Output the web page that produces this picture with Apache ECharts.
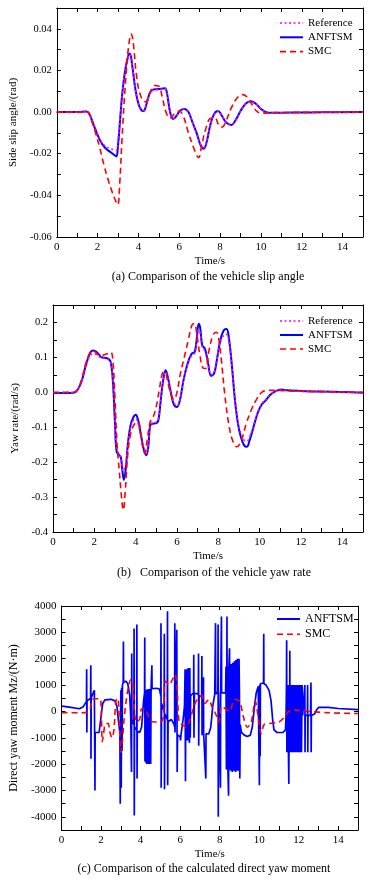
<!DOCTYPE html>
<html><head><meta charset="utf-8">
<script src="https://cdn.jsdelivr.net/npm/echarts@6/dist/echarts.min.js"></script>
<style>html,body{margin:0;padding:0;background:#fff}#c{width:374px;height:880px}</style>
</head><body><div id="c"></div>
<script>
// ---------- (a) side slip angle [time s, rad] ----------
const slipRef = [[0,0],[1.0,0],[1.45,0.0003],[1.6,-0.001],[1.8,-0.006],[2.0,-0.0105],[2.2,-0.0145],[2.4,-0.0165],[2.6,-0.0175],[2.8,-0.0182],[2.92,-0.0185],[3.0,-0.014],[3.1,-0.003],[3.2,0.008],[3.35,0.02],[3.5,0.0265],[3.58,0.0278],[3.7,0.022],[3.85,0.011],[4.0,0.004],[4.15,0.001],[4.25,0.0008],[4.4,0.004],[4.55,0.009],[4.7,0.0105],[4.9,0.0108],[5.1,0.011],[5.3,0.0112],[5.4,0.009],[5.55,0.0],[5.7,-0.003],[5.85,-0.002],[6.05,0.0008],[6.25,0.0015],[6.45,0.0],[6.65,-0.005],[6.85,-0.0105],[7.05,-0.0155],[7.2,-0.017],[7.35,-0.0135],[7.5,-0.007],[7.7,-0.001],[7.9,0.0005],[8.1,-0.002],[8.3,-0.005],[8.55,-0.006],[8.75,-0.004],[9.0,0.0005],[9.25,0.004],[9.5,0.005],[9.75,0.004],[10.0,0.0015],[10.25,0.0],[10.5,-0.0003],[11,-0.0003],[12,-0.0002],[13,-0.0001],[15,0]];
const slipAnftsm = [[0,0],[1.0,0],[1.45,0.0003],[1.6,-0.001],[1.8,-0.006],[2.0,-0.011],[2.2,-0.015],[2.4,-0.0175],[2.6,-0.019],[2.8,-0.0205],[2.92,-0.0213],[3.0,-0.016],[3.1,-0.004],[3.2,0.008],[3.35,0.02],[3.5,0.027],[3.58,0.0282],[3.7,0.022],[3.85,0.011],[4.0,0.004],[4.15,0.0008],[4.25,0.0005],[4.4,0.004],[4.55,0.009],[4.7,0.0108],[4.9,0.011],[5.1,0.0112],[5.3,0.0115],[5.4,0.009],[5.55,0.0],[5.7,-0.0033],[5.85,-0.002],[6.05,0.0008],[6.25,0.0015],[6.45,0.0],[6.65,-0.005],[6.85,-0.01],[7.05,-0.016],[7.2,-0.0176],[7.35,-0.014],[7.5,-0.007],[7.7,-0.001],[7.9,0.0005],[8.1,-0.002],[8.3,-0.005],[8.55,-0.0062],[8.75,-0.004],[9.0,0.0005],[9.25,0.004],[9.5,0.0052],[9.75,0.004],[10.0,0.0015],[10.25,0.0],[10.5,-0.0003],[11,-0.0003],[12,-0.0002],[13,-0.0001],[15,0]];
const slipSmc = [[0,0],[1.0,0],[1.5,0],[1.7,-0.004],[1.9,-0.01],[2.1,-0.017],[2.3,-0.025],[2.5,-0.032],[2.7,-0.038],[2.9,-0.043],[2.99,-0.0445],[3.08,-0.035],[3.2,-0.012],[3.35,0.012],[3.5,0.03],[3.65,0.0375],[3.75,0.033],[3.9,0.018],[4.1,0.008],[4.35,0.0049],[4.55,0.009],[4.8,0.0128],[5.0,0.0125],[5.15,0.008],[5.35,0.0],[5.55,-0.003],[5.75,-0.001],[6.0,0.0005],[6.2,-0.002],[6.45,-0.01],[6.7,-0.017],[6.95,-0.0218],[7.1,-0.016],[7.3,-0.008],[7.55,-0.003],[7.75,-0.003],[7.95,-0.0065],[8.1,-0.0072],[8.3,-0.004],[8.55,0.002],[8.85,0.007],[9.1,0.0084],[9.35,0.007],[9.6,0.003],[9.85,0.0],[10.1,-0.0005],[10.5,-0.0003],[11,-0.0002],[15,0]];

// ---------- (b) yaw rate [time s, rad/s] ----------
const yawRef = [[0,-0.001],[0.5,-0.001],[1.0,-0.001],[1.2,0.008],[1.4,0.034],[1.6,0.078],[1.8,0.105],[1.95,0.11],[2.1,0.108],[2.3,0.1],[2.5,0.097],[2.7,0.093],[2.8,0.083],[2.9,0.03],[3.0,-0.09],[3.08,-0.165],[3.2,-0.175],[3.3,-0.19],[3.4,-0.225],[3.52,-0.205],[3.62,-0.15],[3.75,-0.1],[3.9,-0.078],[4.0,-0.075],[4.12,-0.09],[4.25,-0.125],[4.4,-0.16],[4.52,-0.17],[4.62,-0.145],[4.7,-0.095],[4.8,-0.088],[5.0,-0.085],[5.1,-0.075],[5.2,-0.03],[5.32,0.03],[5.45,0.058],[5.55,0.042],[5.7,0.0],[5.85,-0.03],[6.0,-0.038],[6.15,-0.018],[6.3,0.03],[6.5,0.078],[6.7,0.105],[6.85,0.112],[6.95,0.14],[7.05,0.178],[7.12,0.17],[7.22,0.13],[7.35,0.118],[7.5,0.082],[7.65,0.05],[7.8,0.058],[7.95,0.1],[8.1,0.145],[8.3,0.165],[8.4,0.166],[8.5,0.15],[8.65,0.075],[8.8,-0.02],[8.95,-0.085],[9.1,-0.12],[9.25,-0.137],[9.38,-0.14],[9.5,-0.13],[9.7,-0.095],[9.9,-0.058],[10.1,-0.033],[10.3,-0.02],[10.5,-0.007],[10.8,0.004],[11.05,0.007],[11.3,0.005],[12,0.003],[13,0.002],[14,0.0],[15,-0.001]];
const yawAnftsm = [[0,-0.002],[0.5,-0.002],[1.0,-0.001],[1.2,0.008],[1.4,0.035],[1.6,0.08],[1.8,0.113],[1.92,0.12],[2.05,0.118],[2.2,0.11],[2.35,0.1],[2.5,0.099],[2.7,0.095],[2.8,0.085],[2.9,0.03],[3.0,-0.09],[3.08,-0.17],[3.2,-0.18],[3.28,-0.185],[3.35,-0.22],[3.43,-0.251],[3.52,-0.22],[3.62,-0.15],[3.75,-0.095],[3.9,-0.07],[4.0,-0.064],[4.12,-0.08],[4.25,-0.12],[4.4,-0.165],[4.52,-0.18],[4.62,-0.15],[4.7,-0.095],[4.8,-0.09],[5.0,-0.088],[5.1,-0.08],[5.2,-0.03],[5.32,0.03],[5.45,0.063],[5.55,0.045],[5.7,0.0],[5.85,-0.035],[6.0,-0.042],[6.15,-0.02],[6.3,0.03],[6.5,0.08],[6.7,0.11],[6.85,0.115],[6.95,0.15],[7.05,0.196],[7.12,0.185],[7.22,0.135],[7.35,0.125],[7.5,0.085],[7.65,0.047],[7.8,0.055],[7.95,0.1],[8.1,0.15],[8.3,0.18],[8.4,0.181],[8.5,0.16],[8.65,0.08],[8.8,-0.02],[8.95,-0.09],[9.1,-0.13],[9.25,-0.152],[9.38,-0.156],[9.5,-0.14],[9.7,-0.1],[9.9,-0.06],[10.1,-0.035],[10.3,-0.023],[10.5,-0.008],[10.8,0.004],[11.05,0.008],[11.3,0.006],[12,0.004],[13,0.002],[14,0.001],[15,-0.001]];
const yawSmc = [[0,0],[1.0,0],[1.2,0.008],[1.4,0.04],[1.6,0.085],[1.8,0.115],[1.95,0.12],[2.1,0.112],[2.3,0.105],[2.5,0.108],[2.7,0.112],[2.8,0.115],[2.9,0.09],[3.0,-0.02],[3.1,-0.15],[3.2,-0.22],[3.3,-0.29],[3.4,-0.337],[3.5,-0.28],[3.6,-0.19],[3.75,-0.12],[3.95,-0.09],[4.12,-0.085],[4.25,-0.12],[4.35,-0.16],[4.44,-0.175],[4.55,-0.14],[4.7,-0.085],[4.85,-0.07],[5.0,-0.04],[5.15,0.01],[5.3,0.055],[5.42,0.058],[5.55,0.03],[5.7,-0.005],[5.85,-0.02],[6.0,0.0],[6.15,0.05],[6.35,0.1],[6.55,0.15],[6.72,0.192],[6.85,0.197],[6.95,0.17],[7.1,0.11],[7.25,0.07],[7.38,0.068],[7.55,0.12],[7.75,0.165],[7.9,0.172],[8.0,0.16],[8.15,0.09],[8.3,0.0],[8.5,-0.09],[8.7,-0.14],[8.9,-0.156],[9.1,-0.14],[9.35,-0.09],[9.6,-0.05],[9.85,-0.02],[10.1,0.0],[10.4,0.006],[11,0.005],[12,0.003],[15,0.0]];

// ---------- (c) direct yaw moment [time s, N·m] ----------
const mzAnftsm = [[0,200],[0.4,160],[0.9,100],[1.1,180],[1.26,380],[1.27,1600],[1.28,-800],[1.29,400],[1.47,500],[1.48,1750],[1.49,-1800],[1.5,520],[1.66,800],[1.68,820],[1.69,-3000],[1.7,-800],[1.9,-800],[2.0,-750],[2.08,300],[2.2,440],[2.5,460],[2.7,400],[2.8,200],[2.9,-500],[2.95,-800],[2.97,-3500],[2.98,-700],[3.0,800],[3.02,-2900],[3.04,900],[3.06,-1500],[3.08,1000],[3.12,1100],[3.13,2650],[3.14,1100],[3.25,1150],[3.35,1050],[3.45,600],[3.5,-200],[3.54,-2300],[3.55,2200],[3.56,-300],[3.66,-500],[3.67,3150],[3.68,-3950],[3.69,-600],[3.8,-700],[3.81,3300],[3.82,-2550],[3.83,-750],[3.95,-800],[4.05,-600],[4.15,400],[4.2,700],[4.21,2800],[4.22,-1900],[4.25,800],[4.27,-1950],[4.29,820],[4.31,-2000],[4.33,830],[4.35,-2000],[4.37,840],[4.39,-1950],[4.41,850],[4.43,-2000],[4.45,850],[4.47,-2000],[4.49,860],[4.51,-2000],[4.53,860],[4.56,860],[4.57,1750],[4.58,860],[4.8,880],[4.95,850],[5.02,600],[5.03,3350],[5.04,-2900],[5.06,300],[5.19,0],[5.2,2950],[5.21,-2950],[5.23,-100],[5.35,-300],[5.36,3800],[5.37,-2800],[5.39,-400],[5.55,-300],[5.7,-500],[5.72,-600],[5.73,3350],[5.74,-800],[5.82,-850],[5.83,3100],[5.85,-2300],[5.87,-900],[6.0,-950],[6.02,-1100],[6.05,-850],[6.15,-300],[6.22,200],[6.25,1600],[6.27,-2650],[6.29,1550],[6.31,-1100],[6.33,1600],[6.35,-1000],[6.37,1600],[6.39,-1100],[6.41,1650],[6.43,-1000],[6.45,1600],[6.47,-1200],[6.49,1650],[6.51,-1000],[6.53,600],[6.6,650],[6.68,700],[6.69,2150],[6.7,-1000],[6.72,700],[6.92,650],[6.93,2200],[6.94,-1300],[6.96,600],[7.09,550],[7.1,2100],[7.11,-900],[7.13,500],[7.17,450],[7.18,1300],[7.19,-850],[7.29,-850],[7.3,-2550],[7.31,-850],[7.45,-850],[7.55,-600],[7.65,200],[7.75,650],[7.78,700],[7.79,3350],[7.8,650],[7.91,750],[7.92,3300],[7.93,-4000],[7.94,750],[8.03,750],[8.04,-2900],[8.05,750],[8.08,750],[8.09,3600],[8.1,700],[8.3,700],[8.32,1700],[8.34,-2200],[8.36,700],[8.37,3600],[8.38,-2200],[8.4,1700],[8.42,-2300],[8.45,-3200],[8.47,1750],[8.5,2400],[8.52,-2200],[8.54,1750],[8.56,-2250],[8.58,1800],[8.6,-2200],[8.62,1800],[8.64,-2300],[8.66,1850],[8.68,-2200],[8.7,1850],[8.72,-2250],[8.74,1900],[8.76,-2200],[8.78,1900],[8.8,-2300],[8.82,1950],[8.84,-2200],[8.86,1950],[8.88,-2250],[8.9,2000],[8.92,-2200],[8.94,2000],[8.96,-2250],[8.98,2000],[9.0,700],[9.02,-2550],[9.04,-500],[9.1,-800],[9.25,-900],[9.4,-950],[9.55,-900],[9.65,-600],[9.75,100],[9.85,700],[9.95,950],[10.0,1000],[10.01,-2800],[10.02,1000],[10.04,1050],[10.05,-1700],[10.06,1050],[10.15,1100],[10.22,1080],[10.23,2950],[10.24,1050],[10.35,1000],[10.5,800],[10.6,400],[10.68,-300],[10.75,-700],[10.9,-800],[11.2,-800],[11.33,-700],[11.36,-100],[11.38,1000],[11.39,2700],[11.4,-1550],[11.42,1000],[11.44,-1550],[11.46,1000],[11.48,-1550],[11.5,-2750],[11.52,1000],[11.54,-1550],[11.55,2300],[11.56,-1550],[11.58,1000],[11.6,-1550],[11.63,1000],[11.66,-1550],[11.69,1000],[11.72,-1550],[11.75,1000],[11.78,-1550],[11.81,1000],[11.84,-1550],[11.87,1000],[11.9,-1550],[11.93,1000],[11.96,-1550],[11.99,1000],[12.02,-1550],[12.05,1000],[12.08,-1550],[12.11,1000],[12.14,-1550],[12.17,1000],[12.2,-150],[12.3,-150],[12.31,1000],[12.32,-1550],[12.33,-150],[12.44,-150],[12.45,1000],[12.46,-1550],[12.47,-150],[12.6,-150],[12.62,1100],[12.63,-1550],[12.64,-150],[12.8,-100],[12.9,50],[13.0,150],[13.5,150],[14.0,110],[15,70]];
const mzSmc = [[0,-50],[0.5,-50],[1.0,-50],[1.3,-30],[1.45,100],[1.55,450],[1.75,480],[1.95,480],[2.02,-300],[2.06,-1150],[2.12,-900],[2.2,-500],[2.35,-450],[2.45,-800],[2.55,-1000],[2.65,-700],[2.75,400],[2.85,500],[2.93,-600],[3.0,-1550],[3.07,-1200],[3.15,-400],[3.25,300],[3.35,800],[3.5,1200],[3.6,1100],[3.7,-100],[3.8,-400],[3.95,-300],[4.05,100],[4.2,100],[4.35,-100],[4.5,-350],[4.7,-400],[5.0,-400],[5.15,-200],[5.25,1150],[5.45,1000],[5.6,1200],[5.75,1400],[5.85,800],[5.95,-400],[6.1,-500],[6.3,-600],[6.5,-300],[6.7,200],[6.9,500],[7.1,600],[7.25,300],[7.45,450],[7.6,200],[7.8,-100],[7.95,-400],[8.1,200],[8.3,100],[8.5,0],[8.75,450],[9.0,400],[9.2,-200],[9.4,-600],[9.6,-400],[9.8,400],[9.95,-200],[10.1,-850],[10.25,-500],[10.6,-450],[11.0,-400],[11.3,-200],[11.5,0],[11.8,50],[12.5,0],[13.5,-50],[15,-80]];

// ---------- axis settings ----------
const timeRange = [0, 15];
const slipRange = [-0.06, 0.05];
const yawRange = [-0.4, 0.25];
const mzRange = [-4500, 4000];
const legendABC = ['Reference', 'ANFTSM', 'SMC'];
const legendC = ['ANFTSM', 'SMC'];

const F = '"Liberation Serif", "Times New Roman", serif';
const BLUE = '#0000ff', RED = '#ff0000', MAG = '#ff00ff';
const DOT = [2, 2.5], DASH = [6, 4];
const STYLE = {
  'Reference': {color: MAG, type: DOT, width: 1.6},
  'ANFTSM': {color: BLUE, type: 'solid', width: 2},
  'SMC': {color: RED, type: DASH, width: 1.6}
};

function xAx(g, top) {
  return {
    type: 'value', gridIndex: g, position: top ? 'top' : 'bottom',
    min: timeRange[0], max: timeRange[1], interval: 1,
    axisLine: {show: true, onZero: false, lineStyle: {color: '#000', width: 1}},
    axisTick: {show: true, inside: true, length: 4, lineStyle: {color: '#000', width: 1}},
    axisLabel: {show: !top, margin: 5, color: '#000', fontFamily: F, fontSize: 11,
      formatter: v => (Math.round(v) % 2 === 0 ? String(Math.round(v)) : '')},
    splitLine: {show: false},
    name: top ? '' : 'Time/s', nameLocation: 'middle', nameGap: 19,
    nameTextStyle: {color: '#000', fontFamily: F, fontSize: 11}
  };
}
function yAx(g, right, range, interval, fmt, name, gap, nfs, lfs) {
  return {
    type: 'value', gridIndex: g, position: right ? 'right' : 'left',
    min: range[0], max: range[1], interval: interval,
    axisLine: {show: true, onZero: false, lineStyle: {color: '#000', width: 1}},
    axisTick: {show: true, inside: true, length: 4, lineStyle: {color: '#000', width: 1}},
    axisLabel: {show: !right, margin: 5, color: '#000', fontFamily: F, fontSize: lfs, formatter: fmt},
    splitLine: {show: false},
    name: right ? '' : name, nameLocation: 'middle', nameGap: gap,
    nameTextStyle: {color: '#000', fontFamily: F, fontSize: nfs}
  };
}
const fmtSlip = v => { const k = Math.round(v * 100); return k % 2 === 0 ? (k / 100).toFixed(2) : ''; };
const fmtYaw = v => { const k = Math.round(v * 100); return k % 10 === 0 ? (k / 100).toFixed(1) : ''; };
const fmtMz = v => { const k = Math.round(v); return k % 1000 === 0 ? String(k) : ''; };

function ln(name, data, xi, yi, width, smooth, z) {
  const s = STYLE[name];
  return {
    name, type: 'line', data, xAxisIndex: xi, yAxisIndex: yi,
    symbol: 'none', showSymbol: false, smooth: smooth, z: z,
    lineStyle: {color: s.color, type: s.type, width: width || s.width}, itemStyle: {color: s.color},
    animation: false, silent: true
  };
}
// legend drawn as graphic keys (line sample + label)
function legendKeys(names, x0, y0, step, fs) {
  const out = [];
  names.forEach((n, i) => {
    const s = STYLE[n], y = y0 + i * step;
    out.push({type: 'line', shape: {x1: x0, y1: y, x2: x0 + 23, y2: y},
      style: {stroke: s.color, lineWidth: s.width, lineDash: s.type === 'solid' ? null : s.type}, z: 10});
    out.push({type: 'text', x: x0 + 28, y: y, style: {text: n, fill: '#000', font: fs + 'px ' + F, textAlign: 'left', textVerticalAlign: 'middle'}, z: 10});
  });
  return out;
}

const chart = echarts.init(document.getElementById('c'), null, {renderer: 'canvas'});
chart.setOption({
  backgroundColor: '#fff',
  animation: false,
  grid: [
    {left: 53, top: 8, width: 310, height: 229},
    {left: 53, top: 305, width: 310, height: 227},
    {left: 55, top: 606, width: 303, height: 224}
  ],
  xAxis: [xAx(0, false), xAx(0, true), xAx(1, false), xAx(1, true), xAx(2, false), xAx(2, true)],
  yAxis: [
    yAx(0, false, slipRange, 0.01, fmtSlip, 'Side slip angle/(rad)', 32, 11, 10.5),
    yAx(0, true, slipRange, 0.01, fmtSlip, '', 0, 11, 10.5),
    yAx(1, false, yawRange, 0.05, fmtYaw, 'Yaw rate/(rad/s)', 29, 11, 10.5),
    yAx(1, true, yawRange, 0.05, fmtYaw, '', 0, 11, 10.5),
    yAx(2, false, mzRange, 500, fmtMz, 'Direct yaw moment Mz/(N·m)', 34, 12, 11),
    yAx(2, true, mzRange, 500, fmtMz, '', 0, 12, 11)
  ],
  series: [
    ln('ANFTSM', slipAnftsm, 0, 0, 2, 0.4, 3),
    ln('Reference', slipRef, 0, 0, 1.6, 0.4, 4),
    ln('SMC', slipSmc, 0, 0, 1.6, 0.4, 5),
    ln('ANFTSM', yawAnftsm, 2, 2, 2, 0.4, 3),
    ln('Reference', yawRef, 2, 2, 1.6, 0.4, 4),
    ln('SMC', yawSmc, 2, 2, 1.6, 0.4, 5),
    ln('ANFTSM', mzAnftsm, 4, 4, 1.7, false, 3),
    ln('SMC', mzSmc, 4, 4, 1.6, 0.3, 5)
  ],
  graphic: [].concat(
    legendKeys(legendABC, 280, 23, 14.3, 11),
    legendKeys(legendABC, 280, 321, 14, 11),
    legendKeys(legendC, 277, 619, 15.3, 12),
    [
      {type: 'text', x: 208, y: 277, style: {text: '(a) Comparison of the vehicle slip angle', fill: '#000', font: '12px ' + F, textAlign: 'center', textVerticalAlign: 'middle'}},
      {type: 'text', x: 214, y: 573, style: {text: '(b)   Comparison of the vehicle yaw rate', fill: '#000', font: '12px ' + F, textAlign: 'center', textVerticalAlign: 'middle'}},
      {type: 'text', x: 204, y: 869, style: {text: '(c) Comparison of the calculated direct yaw moment', fill: '#000', font: '12px ' + F, textAlign: 'center', textVerticalAlign: 'middle'}}
    ])
});
</script></body></html>
